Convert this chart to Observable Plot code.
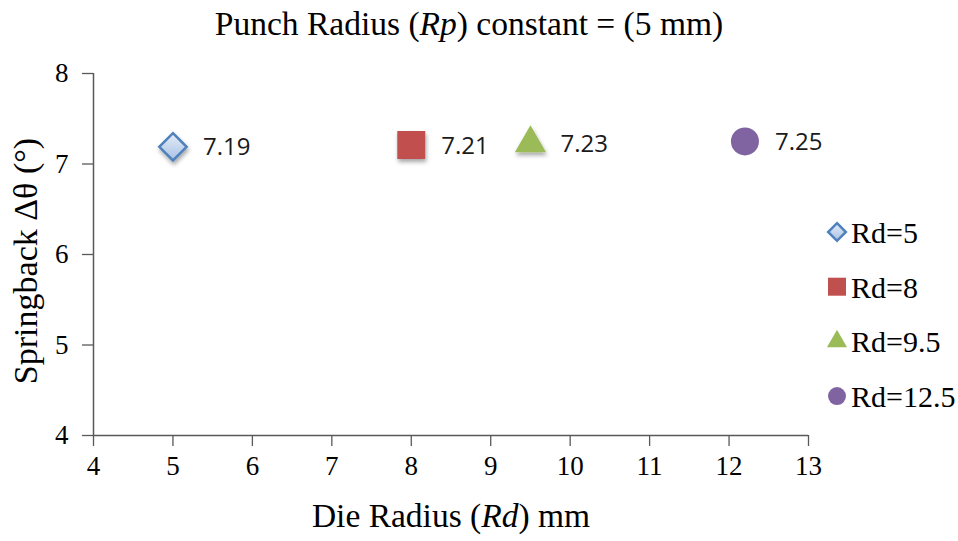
<!DOCTYPE html>
<html>
<head>
<meta charset="utf-8">
<script src="https://cdn.jsdelivr.net/npm/d3@7"></script>
<script src="https://cdn.jsdelivr.net/npm/@observablehq/plot@0.6"></script>
<style>
  html, body { margin: 0; padding: 0; background: #fff; }
  #chart { width: 958px; height: 541px; }
</style>
</head>
<body>
<div id="chart"></div>
<script>
// ---- data ----
const seriesNames = ["Rd=5", "Rd=8", "Rd=9.5", "Rd=12.5"];
const dieRadius = [5, 8, 9.5, 12.2];
const springback = [7.19, 7.21, 7.23, 7.25];
const valueLabels = ["7.19", "7.21", "7.23", "7.25"];
const symbols = ["diamond2", "square", "triangle", "circle"];
const fills = ["url(#diamGrad)", "#C0504D", "#9BBB59", "#8064A2"];
const strokes = ["#4F81BD", "none", "none", "none"];
const xTicks = [4, 5, 6, 7, 8, 9, 10, 11, 12, 13];
const yTicks = [4, 5, 6, 7, 8];

const serif = "'Liberation Serif', 'Times New Roman', serif";
const axisColor = "#595959";
const markR = [12.3, 15.8, 11.6, 14];

const pointMarks = seriesNames.map((name, i) =>
  Plot.dot([i], {
    x: j => dieRadius[j],
    y: j => springback[j],
    symbol: symbols[i],
    fill: fills[i],
    stroke: strokes[i],
    strokeWidth: 2.5,
    r: markR[i]
  })
);

const plot = Plot.plot({
  width: 958,
  height: 541,
  marginLeft: 93,
  marginRight: 150,
  marginTop: 73,
  marginBottom: 106,
  style: { fontFamily: serif, fontSize: "27px", background: "#fff", color: "#000", overflow: "visible" },
  x: { domain: [4, 13] },
  y: { domain: [4, 8] },
  marks: [
    Plot.axisX(xTicks, { tickSize: 11, tickPadding: 9, tickFormat: d => String(d), stroke: axisColor, strokeWidth: 1.3, label: null, fill: "#000" }),
    Plot.axisY(yTicks, { tickSize: 11, tickPadding: 14, tickFormat: d => String(d), stroke: axisColor, strokeWidth: 1.3, label: null, fill: "#000" }),
    Plot.ruleX([4], { stroke: axisColor, strokeWidth: 1.5 }),
    Plot.ruleY([4], { stroke: axisColor, strokeWidth: 1.5 }),
    ...pointMarks,
    Plot.text(springback.map((v, i) => i), {
      x: j => dieRadius[j],
      y: j => springback[j],
      text: j => valueLabels[j],
      textAnchor: "start",
      dx: 30,
      dy: 1,
      fontSize: 24,
      fontFamily: "'Open Sans', sans-serif",
      fill: "#1a1a1a"
    })
  ]
});

document.getElementById("chart").appendChild(plot);

const svg = d3.select(plot);

// defs: gradient + shadow
const defs = svg.insert("defs", ":first-child");
const grad = defs.append("linearGradient").attr("id", "diamGrad")
  .attr("x1", 0).attr("y1", 0).attr("x2", 0).attr("y2", 1);
grad.append("stop").attr("offset", "0%").attr("stop-color", "#E4ECF7");
grad.append("stop").attr("offset", "100%").attr("stop-color", "#A9C2E4");
const f = defs.append("filter").attr("id", "shadow")
  .attr("x", "-50%").attr("y", "-50%").attr("width", "200%").attr("height", "200%");
f.append("feDropShadow").attr("dx", 1).attr("dy", 3).attr("stdDeviation", 2)
  .attr("flood-color", "#000").attr("flood-opacity", 0.35);

svg.selectAll("g[aria-label='dot'] path").attr("filter", "url(#shadow)");

// title
const title = svg.append("text")
  .attr("x", 469).attr("y", 35)
  .attr("text-anchor", "middle")
  .style("font-family", serif).style("font-size", "33.5px").attr("fill", "#000");
title.append("tspan").text("Punch Radius (");
title.append("tspan").attr("font-style", "italic").text("Rp");
title.append("tspan").text(") constant = (5 mm)");

// x label
const xl = svg.append("text")
  .attr("x", 451).attr("y", 527)
  .attr("text-anchor", "middle")
  .style("font-family", serif).style("font-size", "33.5px").attr("fill", "#000");
xl.append("tspan").text("Die Radius (");
xl.append("tspan").attr("font-style", "italic").text("Rd");
xl.append("tspan").text(") mm");

// y label
svg.append("text")
  .attr("transform", "translate(37,261) rotate(-90)")
  .attr("text-anchor", "middle")
  .style("font-family", serif).style("font-size", "34px").attr("fill", "#000")
  .text("Springback \u0394\u03B8 (\u00B0)");

// legend
const legendSizes = [200, 324, 175, 254];
const legendColors = ["url(#diamGrad)", "#C0504D", "#9BBB59", "#8064A2"];
const symMap = { diamond2: d3.symbolDiamond2, square: d3.symbolSquare, triangle: d3.symbolTriangle, circle: d3.symbolCircle };
const lg = svg.append("g");
seriesNames.forEach((name, i) => {
  const yy = 232 + i * 54.7;
  lg.append("path")
    .attr("transform", `translate(837,${yy})`)
    .attr("d", d3.symbol(symMap[symbols[i]], legendSizes[i])())
    .attr("fill", legendColors[i])
    .attr("stroke", strokes[i])
    .attr("stroke-width", 2.5);
  lg.append("text")
    .attr("x", 851).attr("y", yy + 11)
    .attr("text-anchor", "start")
    .style("font-family", serif).style("font-size", "30px").attr("fill", "#000")
    .text(name);
});
</script>
</body>
</html>
